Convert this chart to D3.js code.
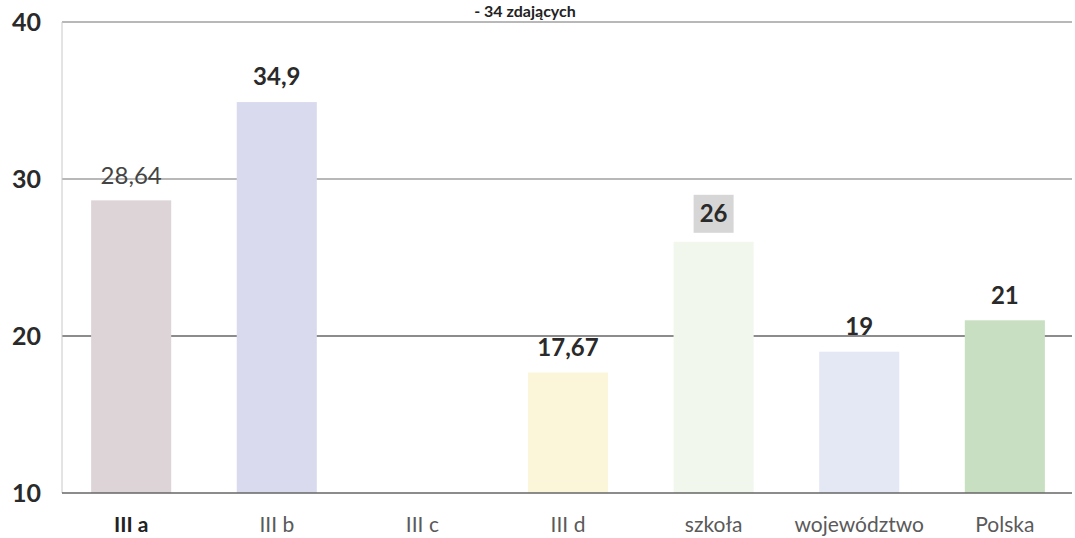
<!DOCTYPE html>
<html>
<head>
<meta charset="utf-8">
<script src="https://cdn.jsdelivr.net/npm/d3@7"></script>
<style>
  body { margin: 0; background: #fff; }
  svg { font-family: Lato, "Open Sans", sans-serif; }
</style>
</head>
<body>
<div id="chart"></div>
<script>
// data
const categories = ["III a", "III b", "III c", "III d", "szkoła", "województwo", "Polska"];
const values = [28.64, 34.9, null, 17.67, 26, 19, 21];
const valueLabels = ["28,64", "34,9", "", "17,67", "26", "19", "21"];
const barColors = ["#ddd4d8", "#dadaef", "#ffffff", "#fbf5da", "#f2f7ee", "#e3e8f4", "#c9dfc1"];
const yTicks = [10, 20, 30, 40];

const width = 1075, height = 538;
const margin = { top: 22, right: 1, bottom: 45, left: 62 };
const plotRight = 1072;

const svg = d3.select("#chart").append("svg")
    .attr("width", width)
    .attr("height", height);

const x = d3.scaleBand()
    .domain(categories)
    .range([margin.left, width - margin.right])
    .paddingInner(0.45)
    .paddingOuter(0.2);

const y = d3.scaleLinear()
    .domain([10, 40])
    .range([height - margin.bottom, margin.top]);

// title (the scan cuts its top off, here kept just inside)
svg.append("text")
    .attr("x", 525)
    .attr("y", 17)
    .attr("text-anchor", "middle")
    .attr("font-size", 16)
    .attr("font-weight", "bold")
    .attr("fill", "#222")
    .text("- 34 zdających");

// grid lines
svg.append("g")
    .selectAll("line")
    .data(yTicks.filter(d => d > 10))
    .join("line")
    .attr("x1", margin.left)
    .attr("x2", plotRight)
    .attr("y1", d => y(d))
    .attr("y2", d => y(d))
    .attr("stroke", d => d === 20 ? "#666" : "#a0a0a0")
    .attr("stroke-width", 1.5);

// left frame line
svg.append("line")
    .attr("x1", margin.left).attr("x2", margin.left)
    .attr("y1", y(40)).attr("y2", y(10))
    .attr("stroke", "#c8c8c8");

// bars
svg.append("g")
    .selectAll("rect")
    .data(categories.map((c, i) => ({ c, v: values[i], color: barColors[i] })).filter(d => d.v != null))
    .join("rect")
    .attr("x", d => x(d.c))
    .attr("width", x.bandwidth())
    .attr("y", d => y(d.v))
    .attr("height", d => y(10) - y(d.v))
    .attr("fill", d => d.color);

// x axis line
svg.append("line")
    .attr("x1", margin.left).attr("x2", plotRight)
    .attr("y1", y(10)).attr("y2", y(10))
    .attr("stroke", "#666")
    .attr("stroke-width", 1.5);

// y tick labels
svg.append("g")
    .selectAll("text")
    .data(yTicks)
    .join("text")
    .attr("x", 41)
    .attr("y", d => y(d))
    .attr("dy", "0.35em")
    .attr("text-anchor", "end")
    .attr("font-size", 25)
    .attr("font-weight", "bold")
    .attr("fill", "#2a2a2a")
    .text(d => d);

// x category labels
svg.append("g")
    .selectAll("text")
    .data(categories)
    .join("text")
    .attr("x", d => x(d) + x.bandwidth() / 2)
    .attr("y", 532)
    .attr("text-anchor", "middle")
    .attr("font-size", 21)
    .attr("font-weight", (d, i) => i === 0 ? "bold" : "normal")
    .attr("fill", (d, i) => i === 0 ? "#222" : "#5a5a5a")
    .text(d => d);

// value labels
const labelData = categories.map((c, i) => ({ c, v: values[i], t: valueLabels[i], i })).filter(d => d.v != null);
const labelY = d => y(d.v) - (d.c === "szkoła" ? 28 : 25);

// grey box behind "26"
const boxed = labelData.find(d => d.c === "szkoła");
svg.append("rect")
    .attr("x", x(boxed.c) + x.bandwidth() / 2 - 20)
    .attr("y", labelY(boxed) - 19)
    .attr("width", 40)
    .attr("height", 38)
    .attr("fill", "#d6d6d6");

svg.append("g")
    .selectAll("text")
    .data(labelData)
    .join("text")
    .attr("x", d => x(d.c) + x.bandwidth() / 2)
    .attr("y", labelY)
    .attr("dy", "0.35em")
    .attr("text-anchor", "middle")
    .attr("font-size", 24)
    .attr("font-weight", d => d.i === 0 ? "normal" : "bold")
    .attr("fill", d => d.i === 0 ? "#444" : "#2a2a2a")
    .text(d => d.t);
</script>
</body>
</html>
